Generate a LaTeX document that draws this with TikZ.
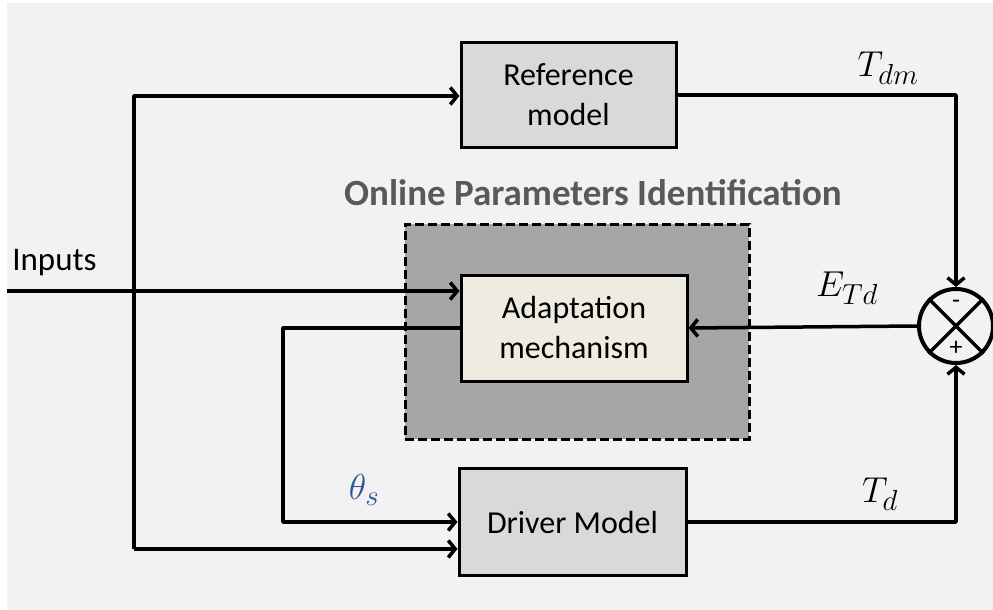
\documentclass[tikz,border=0pt]{standalone}
\usepackage{fix-cm}
\usepackage{fontspec}
\setmainfont{Carlito}
\DeclareMathSizes{36}{36}{29}{22}
\usetikzlibrary{arrows.meta}
\definecolor{bg}{HTML}{F2F2F2}
\definecolor{boxgray}{HTML}{D9D9D9}
\definecolor{darkgray}{HTML}{A6A6A6}
\definecolor{adaptfill}{HTML}{EEECE1}
\definecolor{titlegray}{HTML}{595959}
\definecolor{thetablue}{HTML}{2F5597}
\tikzset{
  blk/.style={draw=black, line width=3pt, rectangle, align=center, font=\fontsize{32}{40}\selectfont, inner sep=0pt},
  arr/.style={line width=3.5pt, -{Straight Barb[length=7pt,width=17pt]}, line join=round},
  lbl/.style={font=\fontsize{36}{40}\selectfont, inner sep=0pt},
}
\begin{document}
\begin{tikzpicture}[x=1pt,y=-1pt]
\useasboundingbox (0,0) rectangle (993,610);
\fill[white] (0,0) rectangle (993,610);
\fill[bg] (7,3) rectangle (993,610);

\node[draw=black, dashed, dash pattern=on 9pt off 4pt, line width=3pt, fill=darkgray,
      minimum width=344pt, minimum height=215pt, inner sep=0pt] (opi) at (577,331.5) {};
\node[font=\fontsize{37}{40}\selectfont\bfseries, text=titlegray, inner sep=0pt] (title) at (593,193) {Online Parameters Identification};

\node[blk, fill=boxgray, minimum width=215pt, minimum height=105pt] (ref) at (568.5,95) {Reference\\model};
\node[blk, fill=adaptfill, minimum width=226pt, minimum height=106pt] (adapt) at (574,328) {Adaptation\\mechanism};
\node[blk, fill=boxgray, minimum width=227pt, minimum height=107pt] (drv) at (572.5,522) {Driver Model};

\node[circle, draw=black, line width=4pt, fill=bg, minimum size=74pt, inner sep=0pt] (sum) at (956,326) {};
\draw[line width=3.5pt] (sum.north west) -- (sum.south east);
\draw[line width=3.5pt] (sum.north east) -- (sum.south west);
\node[font=\fontsize{26}{28}\selectfont, inner sep=0pt] (minus) at (956,304) {-};
\node[font=\fontsize{26}{28}\selectfont, inner sep=0pt] (plus) at (956,348) {+};

\node[font=\fontsize{33}{36}\selectfont, inner sep=0pt] (inputs) at (54.5,263) {Inputs};

\coordinate (in) at (7,291);
\draw[arr] (in) -- (in -| adapt.west);

\coordinate (vtop) at (134,96);
\coordinate (vbot) at (134,549);
\draw[arr] (vbot) -- (vtop) -- (vtop -| ref.west);
\draw[arr] (vbot) -- (vbot -| drv.west);

\draw[arr] (ref.east) -| (sum.north);
\draw[arr] (drv.east) -| (sum.south);
\draw[arr] (sum.west) -- (adapt.east);

\coordinate (th) at (283,328);
\draw[arr] (adapt.west) -- (th) |- (drv.west);

\node[lbl] (tdm) at (888,68) {$T_{dm}$};
\node[lbl] (etd) at (847,288) {$E_{Td}$};
\node[lbl] (td) at (880,494) {$T_{d}$};
\node[lbl, text=thetablue] (theta) at (364,490) {$\theta_{s}$};
\end{tikzpicture}
\end{document}
